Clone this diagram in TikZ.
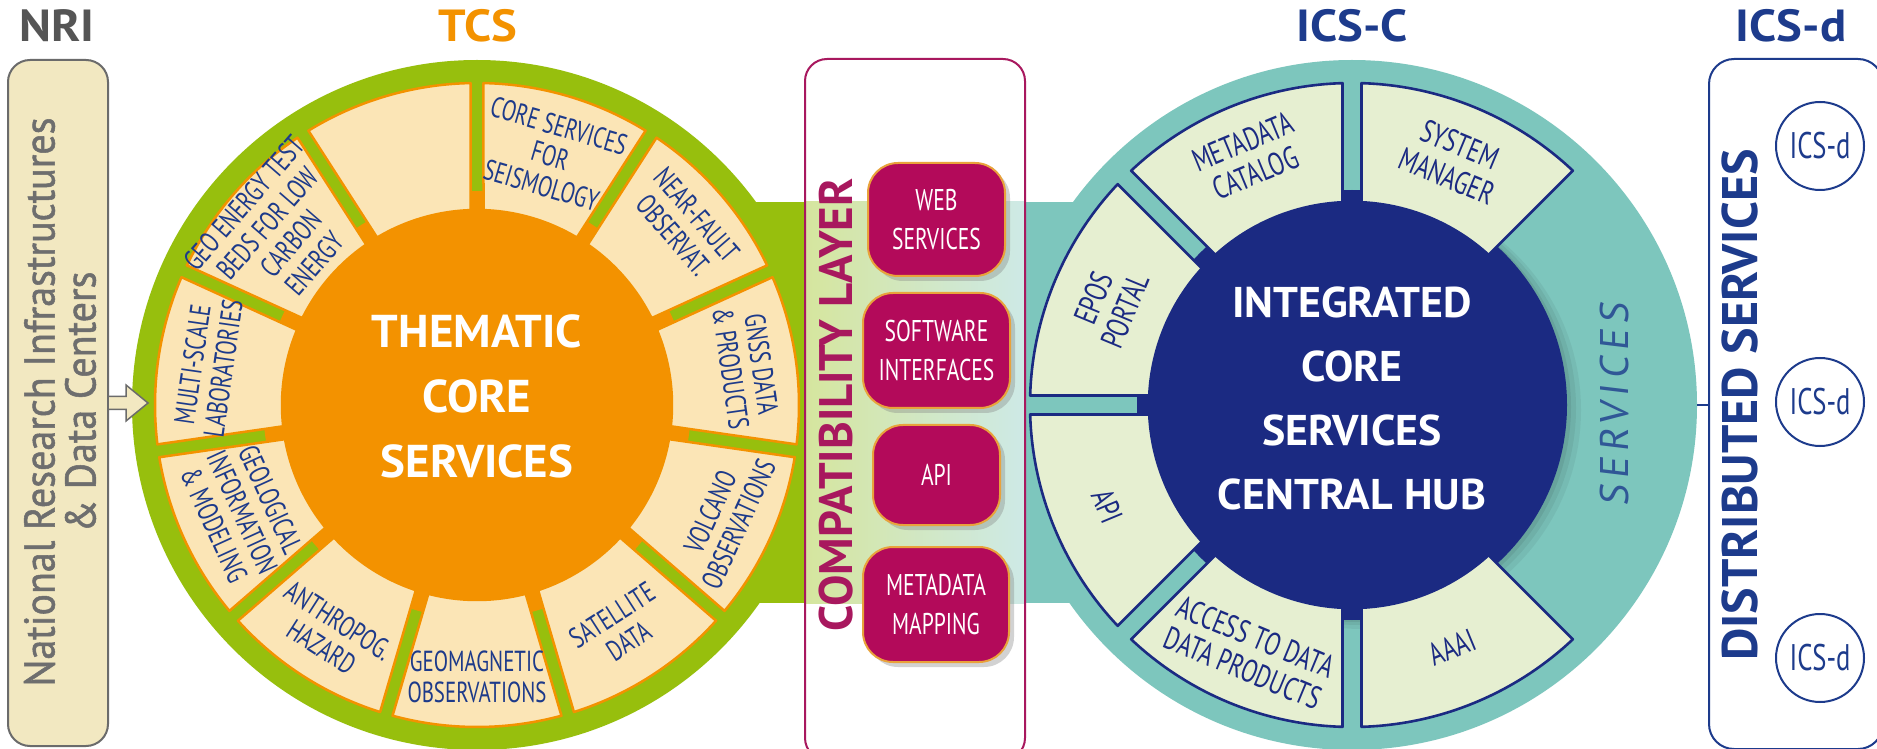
\documentclass[tikz,border=0pt]{standalone}
\usepackage{fontspec}
\setmainfont{PT Sans}
\newfontfamily\labfont[FakeStretch=0.72]{PT Sans}
\newfontfamily\midfont[FakeStretch=1.02]{PT Sans}
\newfontfamily\ttlfont[FakeStretch=1.08]{PT Sans}
\newfontfamily\sidefont[FakeStretch=1.0]{PT Sans}
\newfontfamily\nrifont[FakeStretch=0.93,FakeBold=1.2]{PT Sans}
\newfontfamily\svcfont[LetterSpace=14,FakeSlant=0.12]{PT Sans}
\usetikzlibrary{shadows,calc}
\definecolor{tcsgreen}{HTML}{97BF0D}
\definecolor{tcsorange}{HTML}{F39200}
\definecolor{tcsbeige}{HTML}{FBE5B6}
\definecolor{tcstext}{HTML}{1D3A8A}
\definecolor{icsteal}{HTML}{7DC6BD}
\definecolor{icsnavy}{HTML}{1B2A82}
\definecolor{icsfill}{HTML}{E6EFD1}
\definecolor{icstitle}{HTML}{1D3B8C}
\definecolor{cmag}{HTML}{B30A5A}
\definecolor{magline}{HTML}{A8185E}
\definecolor{cgold}{HTML}{E9A23B}
\definecolor{nrifill}{HTML}{F2E8C1}
\definecolor{nriline}{HTML}{6B6B6B}
\definecolor{nritext}{HTML}{6E6E6E}
\definecolor{nrititle}{HTML}{555555}

% #1 centre, #2 start angle, #3 end angle, #4 inner r, #5 outer r, #6 half gap, #7 style
\newcommand{\mysector}[7]{%
  \pgfmathsetmacro\aoA{#2+asin(#6/#5)}%
  \pgfmathsetmacro\aoB{#3-asin(#6/#5)}%
  \pgfmathsetmacro\aiA{#2+asin(#6/#4)}%
  \pgfmathsetmacro\aiB{#3-asin(#6/#4)}%
  \path[#7] ([shift={(\aoA:#5pt)}]#1) arc[start angle=\aoA, end angle=\aoB, radius=#5pt]
    -- ([shift={(\aiB:#4pt)}]#1) arc[start angle=\aiB, end angle=\aiA, radius=#4pt] -- cycle;
}
% #1 name, #2 centre, #3 angle, #4 radius, #5 style, #6 text
\newcommand{\seclabel}[6]{%
  \pgfmathsetmacro\myrot{sin(#3)>=0 ? #3-90 : #3+90}%
  \node[#5, rotate=\myrot] (#1) at ([shift={(#3:#4pt)}]#2) {#6};
}

\begin{document}
\begin{tikzpicture}[x=1pt,y=1pt,
  tsec/.style={fill=tcsbeige, draw=tcsorange, line width=2.5pt, line join=round},
  isec/.style={fill=icsfill, draw=icsnavy, line width=2.6pt, line join=round},
  tlab/.style={font=\labfont\fontsize{29}{31}\selectfont, text=tcstext, align=center, inner sep=0pt},
  ilab/.style={font=\labfont\fontsize{32}{34}\selectfont, text=icsnavy, align=center, inner sep=0pt},
  magbox/.style={fill=cmag, draw=cgold, line width=2pt, rounded corners=30pt, text=white, align=center,
    font=\labfont\fontsize{30}{39}\selectfont, inner sep=0pt,
    drop shadow={shadow xshift=5pt, shadow yshift=-5pt, opacity=0.35}},
  icsd/.style={draw=icstitle, line width=2pt, circle, minimum size=88pt, inner sep=0pt, text=icstitle,
    font=\labfont\fontsize{37}{39}\selectfont},
  title/.style={font=\ttlfont\bfseries\fontsize{45}{47}\selectfont, inner sep=0pt}
]
\clip (0,0) rectangle (1877,748);
\fill[white] (0,0) rectangle (1877,748);

% connecting bands
\fill[tcsgreen] (477,145) rectangle (812,546);
\fill[icsteal] (1018,145) rectangle (1352,546);

% ---------- TCS ----------
\coordinate (tc) at (477,343);
\fill[tcsgreen] (tc) circle[radius=345pt];
\fill[tcsorange] (tc) circle[radius=214pt];
\foreach \k in {0,...,10}{
  \pgfmathsetmacro\aA{90-(\k+1)*360/11}
  \pgfmathsetmacro\aB{90-\k*360/11}
  \mysector{tc}{\aA}{\aB}{195}{322}{6.5}{tsec}
}
\seclabel{l1}{tc}{73.64}{260}{tlab}{CORE SERVICES\\FOR\\SEISMOLOGY}
\seclabel{l2}{tc}{40.91}{275}{tlab}{NEAR-FAULT\\OBSERVAT.}
\seclabel{l3}{tc}{8.18}{272}{tlab}{GNSS DATA\\\& PRODUCTS}
\seclabel{l4}{tc}{-24.55}{272}{tlab}{VOLCANO\\OBSERVATIONS}
\seclabel{l5}{tc}{-57.27}{265}{tlab}{SATELLITE\\DATA}
\seclabel{l6}{tc}{-90}{272}{tlab}{GEOMAGNETIC\\OBSERVATIONS}
\seclabel{l7}{tc}{-122.73}{272}{tlab}{ANTHROPOG.\\HAZARD}
\seclabel{l8}{tc}{-155.45}{258}{tlab}{GEOLOGICAL\\INFORMATION\\\& MODELING}
\seclabel{l9}{tc}{171.82}{272}{tlab}{MULTI-SCALE\\LABORATORIES}
\seclabel{l10}{tc}{139.09}{262}{tlab}{GEO ENERGY TEST\\BEDS FOR LOW\\CARBON\\ENERGY}
\node[font=\midfont\bfseries\fontsize{46}{65}\selectfont, text=white, align=center] (tcsc) at (477,352) {THEMATIC\\CORE\\SERVICES};

% ---------- ICS-C ----------
\coordinate (ic) at (1352,343);
\fill[icsteal] (ic) circle[radius=345pt];
\fill[black, opacity=0.05] ([shift={(10pt,-5pt)}]ic) circle[radius=219pt];
\fill[black, opacity=0.06] ([shift={(7pt,-3pt)}]ic) circle[radius=217pt];
\fill[black, opacity=0.07] ([shift={(4pt,-2pt)}]ic) circle[radius=215pt];
\fill[icsnavy] (ic) circle[radius=215pt];
\foreach \a in {45,90,135,180,225,270}{
  \mysector{ic}{\a}{\a+45}{203}{322}{9.5}{isec}
}
\seclabel{m1}{ic}{112.5}{268}{ilab}{METADATA\\CATALOG}
\seclabel{m2}{ic}{67.5}{265}{ilab}{SYSTEM\\MANAGER}
\seclabel{m3}{ic}{157.5}{263}{ilab}{EPOS\\PORTAL}
\seclabel{m4}{ic}{202.5}{265}{ilab}{API}
\seclabel{m5}{ic}{247.5}{268}{ilab}{ACCESS TO DATA\\DATA PRODUCTS}
\seclabel{m6}{ic}{292.5}{262}{ilab}{AAAI}
\node[font=\midfont\bfseries\fontsize{43}{64}\selectfont, text=white, align=center] (icsc) at (1352,350) {INTEGRATED\\CORE\\SERVICES\\CENTRAL HUB};
\node[rotate=90, font=\svcfont\fontsize{40}{42}\selectfont, text=icstitle!80!icsteal] (svc) at (1614,343) {SERVICES};

% ---------- compatibility layer ----------
\fill[white, rounded corners=22pt] (805,-12) rectangle (1025,689);
\shade[left color=tcsgreen!40!white, middle color=white, right color=icsteal!38!white] (806,145) rectangle (1024,546);
\node[draw=magline, line width=2pt, rounded corners=22pt, minimum width=220pt, minimum height=701pt, inner sep=0pt] (compat) at (915,338.5) {};
\node[rotate=90, font=\sidefont\bfseries\fontsize{47}{49}\selectfont, text=magline] (complab) at (836,343) {COMPATIBILITY LAYER};
\node[magbox, minimum width=137pt, minimum height=113pt] (web) at (936.5,528.5) {WEB\\SERVICES};
\node[magbox, minimum width=147pt, minimum height=115pt] (soft) at (936.5,397.5) {SOFTWARE\\INTERFACES};
\node[magbox, minimum width=127pt, minimum height=100pt] (apib) at (936.5,273) {API};
\node[magbox, minimum width=146pt, minimum height=115pt] (meta) at (936,143.5) {METADATA\\MAPPING};

% ---------- NRI ----------
\node[draw=nriline, line width=2pt, fill=nrifill, rounded corners=22pt, minimum width=100pt, minimum height=686pt, inner sep=0pt] (nri) at (58,345) {};
\node[rotate=90, font=\nrifont\fontsize{43}{41}\selectfont, text=nritext, align=center] (nritxt) at (60,346) {National Research Infrastructures\\\& Data Centers};
\draw[draw=nriline, fill=nrifill, line width=1.5pt, line join=miter]
  ([yshift=6.5pt]nri.east) -- ++(17,0) -- ++(0,11.5) -- ++(22,-18) -- ++(-22,-18) -- ++(0,11.5) -- ++(-17,0);

% ---------- ICS-d ----------
\node[draw=icstitle, line width=2pt, rounded corners=25pt, minimum width=174pt, minimum height=690pt, inner sep=0pt] (dbox) at (1796,344) {};
\node[rotate=90, font=\sidefont\bfseries\fontsize{50}{52}\selectfont, text=icstitle] (dslab) at (1740,343) {DISTRIBUTED SERVICES};
\node[icsd] (d1) at (1820,602) {ICS-d};
\node[icsd] (d2) at (1820,346) {ICS-d};
\node[icsd] (d3) at (1820,90) {ICS-d};
\coordinate (ring) at ([shift={(0:345pt)}]ic);
\draw[icstitle, line width=2pt] (ring) -- (dbox.west |- ring);

% ---------- titles ----------
\node[title, text=nrititle] (nrit) at (57,722) {NRI};
\node[title, text=tcsorange] (tcst) at (478,722) {TCS};
\node[title, text=icstitle] (icst) at (1352,722) {ICS-C};
\node[title, text=icstitle] (icsdt) at (1791,722) {ICS-d};
\end{tikzpicture}
\end{document}
